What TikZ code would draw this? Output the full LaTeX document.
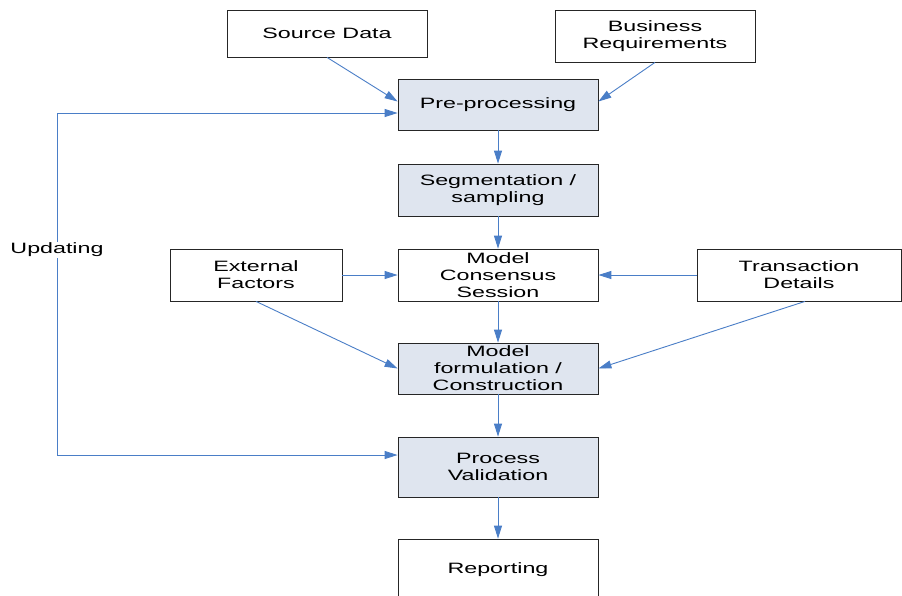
\documentclass[tikz,border=0pt]{standalone}
\usepackage{fontspec}
\setmainfont{Liberation Sans}[FakeStretch=1.55]
\usetikzlibrary{arrows.meta}
\definecolor{boxfill}{HTML}{DFE5EF}
\definecolor{arrowblue}{HTML}{4A7EC7}
\begin{document}
\begin{tikzpicture}[x=1pt,y=-1pt,
  box/.style={draw=black!85, line width=0.8pt, rectangle, inner sep=0pt, align=center,
    minimum width=200pt, minimum height=51pt, font=\fontsize{15}{17}\selectfont},
  bluebox/.style={box, fill=boxfill},
  arr/.style={draw=arrowblue, line width=0.9pt, -{Triangle[length=13pt,width=8pt]}},
  barr/.style={draw=arrowblue, line width=0.9pt, {Triangle[length=13pt,width=8pt]}-{Triangle[length=13pt,width=8pt]}},
  lbl/.style={fill=white, inner sep=1pt, font=\fontsize{15}{17}\selectfont}]
\clip (0,0) rectangle (902,595);
\fill[white] (0,0) rectangle (902,595);
\node[box, minimum height=47pt] (src) at (327,33.5) {Source Data};
\node[box, minimum height=52pt] (biz) at (655,36) {Business\\Requirements};
\node[bluebox] (pre) at (498,104.5) {Pre-processing};
\node[bluebox, minimum height=52pt] (seg) at (498,190) {Segmentation /\\sampling};
\node[box, minimum height=52pt] (cons) at (498,275) {Model\\Consensus\\Session};
\node[box, minimum width=172pt, minimum height=52pt] (ext) at (256,275) {External\\Factors};
\node[box, minimum width=204pt, minimum height=52pt] (tra) at (799,275) {Transaction\\Details};
\node[bluebox] (form) at (498,368.5) {Model\\formulation /\\Construction};
\node[bluebox, minimum height=60pt] (val) at (498,467) {Process\\Validation};
\node[box, minimum height=62pt] (rep) at (498,570) {Reporting};
\coordinate (ul) at (57,113);
\coordinate (ll) at (57,455);
\draw[arr] (src.south) -- ([yshift=3pt]pre.west);
\draw[arr] (biz.south) -- ([yshift=3pt]pre.east);
\draw[arr] (pre.south) -- (seg.north);
\draw[arr] (seg.south) -- (cons.north);
\draw[arr] (cons.south) -- (form.north);
\draw[arr] (form.south) -- (val.north);
\draw[arr] (val.south) -- (rep.north);
\draw[arr] (ext.east) -- (cons.west);
\draw[arr] (tra.west) -- (cons.east);
\draw[arr] (ext.south) -- (form.west);
\draw[arr] ([xshift=6pt]tra.south) -- (form.east);
\draw[barr] ([yshift=-8.5pt]pre.west) -- (ul) -- (ll) -- ([yshift=12pt]val.west);
\node[lbl] (upd) at (57,250) {Updating};
\end{tikzpicture}
\end{document}
